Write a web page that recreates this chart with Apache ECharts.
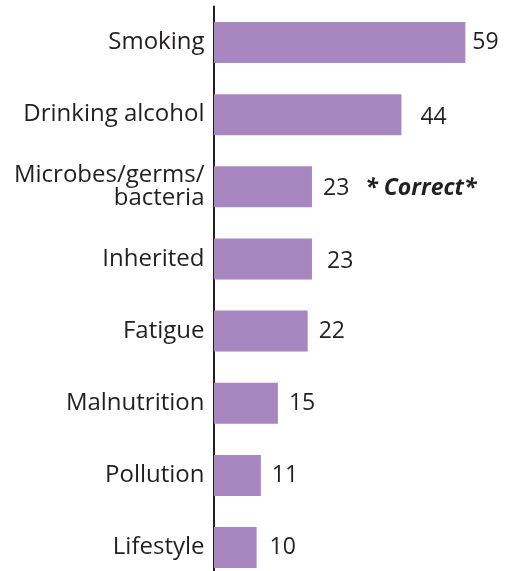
<!DOCTYPE html>
<html>
<head>
<meta charset="utf-8">
<script src="https://cdn.jsdelivr.net/npm/echarts@6/dist/echarts.min.js"></script>
<style>
html,body{margin:0;padding:0;background:#fff;}
#chart{width:509px;height:571px;}
</style>
</head>
<body>
<div id="chart"></div>
<script>
// ---- data ----
var categories = ['Smoking', 'Drinking alcohol', 'Microbes/germs/\nbacteria', 'Inherited', 'Fatigue', 'Malnutrition', 'Pollution', 'Lifestyle'];
var values = [59, 44, 23, 23, 22, 15, 11, 10];
var annotationIndex = 2;
var annotationText = '* Correct*';

// ---- styling ----
var TEXT = '#231f20';
var FONT = 'Open Sans';
var labelTweaks = {
  0: { distance: 7 },
  1: { distance: 19, offset: [0, 3] },
  2: { offset: [0, 2] },
  3: { distance: 15, offset: [0, 3] },
  7: { distance: 13 }
};

var seriesData = values.map(function (v, i) {
  var item = { value: v };
  var t = labelTweaks[i];
  if (t) item.label = Object.assign({}, t);
  if (i === annotationIndex) {
    item.label = Object.assign(item.label || {}, {
      formatter: '{v|{c}}{a|' + annotationText + '}'
    });
  }
  return item;
});

var chart = echarts.init(document.getElementById('chart'), null, { renderer: 'canvas' });
chart.setOption({
  animation: false,
  backgroundColor: '#ffffff',
  grid: { left: 214, top: 6.4, width: 298.2, height: 577.2, containLabel: false, outerBoundsMode: 'none' },
  xAxis: {
    type: 'value', min: 0, max: 70, show: false
  },
  yAxis: {
    type: 'category',
    inverse: true,
    data: categories,
    offset: 1.5,
    axisLine: { show: true, lineStyle: { color: TEXT, width: 2 } },
    axisTick: { show: false },
    splitLine: { show: false },
    axisLabel: {
      color: TEXT, fontSize: 24, fontFamily: FONT, margin: 8, lineHeight: 23
    }
  },
  series: [{
    type: 'bar',
    data: seriesData,
    barWidth: 41,
    itemStyle: { color: '#a886bf' },
    label: {
      show: true,
      position: 'right',
      distance: 11,
      color: TEXT,
      fontSize: 23,
      fontFamily: FONT,
      rich: {
        v: { color: TEXT, fontSize: 23, fontFamily: FONT },
        a: { color: TEXT, fontSize: 23, fontFamily: FONT, fontWeight: 'bold', fontStyle: 'italic', padding: [0, 0, 0, 16] }
      }
    }
  }]
});
</script>
</body>
</html>
